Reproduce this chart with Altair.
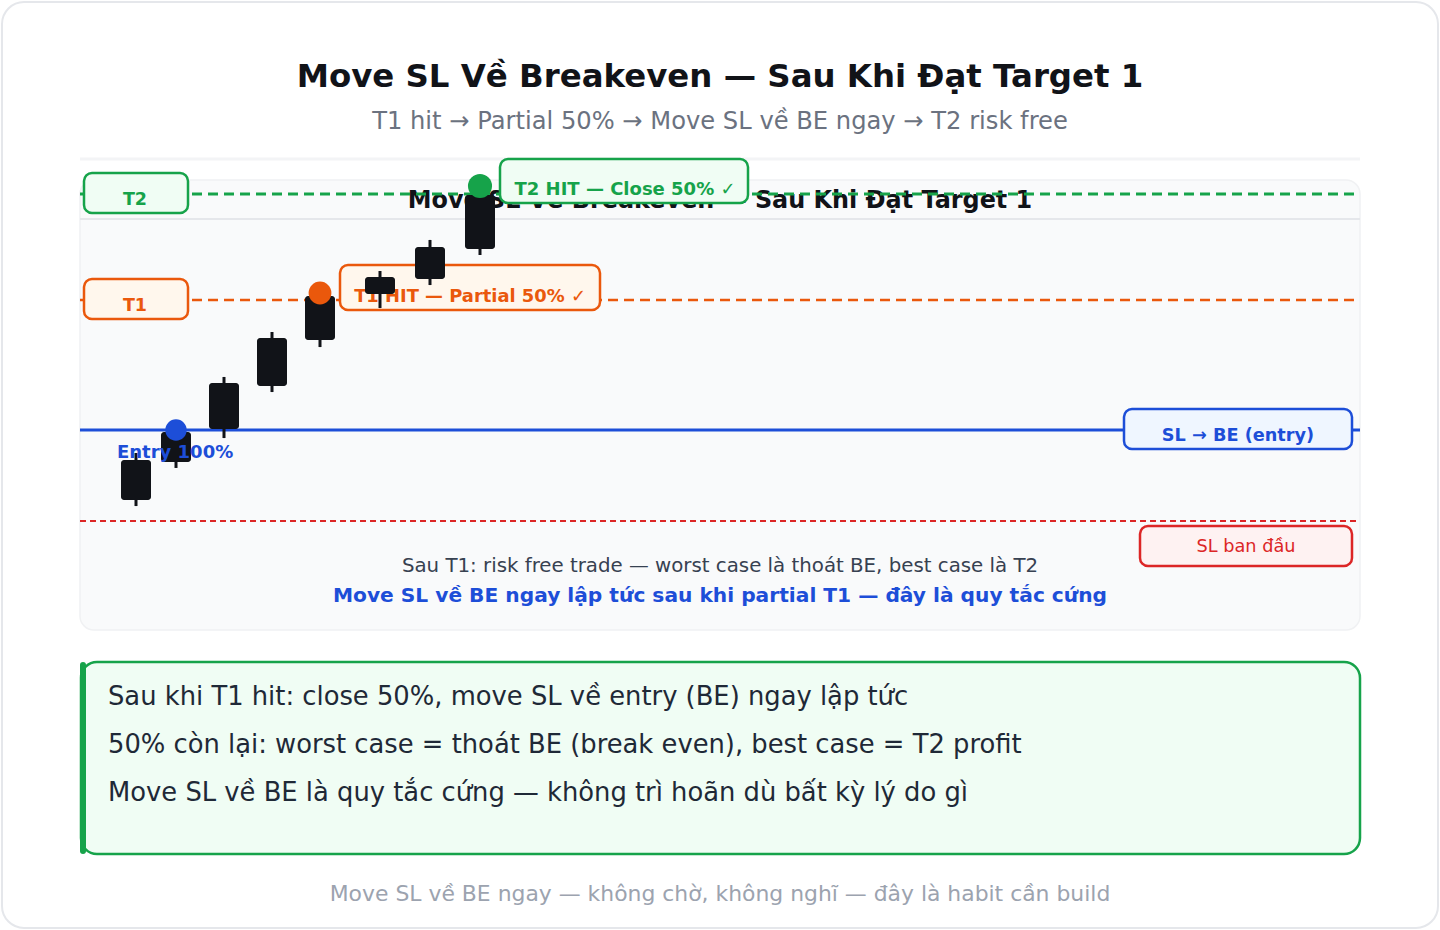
import altair as alt
import pandas as pd

# ---------------- data ----------------
CANDLE_T = [1, 2, 3.2, 4.4, 5.6, 7.1, 8.35, 9.6]
OPEN = [94.62, 97.54, 100.08, 103.38, 106.92, 110.46, 111.62, 113.92]
CLOSE = [97.69, 99.85, 103.62, 107.08, 110.30, 111.77, 114.08, 118.08]
HIGH = [98.23, 100.77, 104.08, 107.54, 110.54, 112.23, 114.62, 118.77]
LOW = [94.15, 97.08, 99.38, 102.92, 106.38, 109.38, 111.15, 113.46]

ENTRY = 100.0
T1 = 110.0
T2 = 118.15
SL0 = 93.0

MARKER_KIND = ["entry", "t1", "t2"]
MARKER_T = [2, 5.6, 9.6]
MARKER_P = [100.0, 110.54, 118.77]

TITLE = "Move SL Về Breakeven — Sau Khi Đạt Target 1"
SUBTITLE = "T1 hit → Partial 50% → Move SL về BE ngay → T2 risk free"
NOTE1 = "Sau T1: risk free trade — worst case là thoát BE, best case là T2"
NOTE2 = "Move SL về BE ngay lập tức sau khi partial T1 — đây là quy tắc cứng"
INFO = [
    "Sau khi T1 hit: close 50%, move SL về entry (BE) ngay lập tức",
    "50% còn lại: worst case = thoát BE (break even), best case = T2 profit",
    "Move SL về BE là quy tắc cứng — không trì hoãn dù bất kỳ lý do gì",
]
FOOTER = "Move SL về BE ngay — không chờ, không nghĩ — đây là habit cần build"

# ---------------- scales ----------------
W, H = 1440, 930
PX = 13.0  # px per price unit
XS = alt.Scale(domain=[-2.4, 33.6], nice=False, zero=False, padding=0)
YS = alt.Scale(domain=[ENTRY - (H - 430) / PX, ENTRY + 430 / PX], nice=False, zero=False, padding=0)

FONT = "DejaVu Sans"
GREEN, GREEN_BG = "#16a34a", "#f0fdf4"
ORANGE, ORANGE_BG = "#ea580c", "#fff7ed"
BLUE, BLUE_BG = "#1d4ed8", "#eff6ff"
RED, RED_BG = "#dc2626", "#fef2f2"
DARK = "#111318"

one = pd.DataFrame({"k": [0]})
candles = pd.DataFrame({"t": CANDLE_T, "open": OPEN, "close": CLOSE, "high": HIGH, "low": LOW})
markers = pd.DataFrame({"kind": MARKER_KIND, "t": MARKER_T, "p": MARKER_P})


def vbox(x1, x2, y1, y2, fill, stroke, sw=2.5, r=8):
    return alt.Chart(one).mark_rect(fill=fill, stroke=stroke, strokeWidth=sw, cornerRadius=r).encode(
        x=alt.value(x1), x2=alt.value(x2), y=alt.value(y1), y2=alt.value(y2))


def lbox(x1, x2, level, up_px, down_px, fill, stroke, sw=2.5, r=8):
    return alt.Chart(one).mark_rect(fill=fill, stroke=stroke, strokeWidth=sw, cornerRadius=r).encode(
        x=alt.value(x1), x2=alt.value(x2),
        y=alt.Y(datum=level + up_px / PX, scale=YS, axis=None),
        y2=alt.Y2(datum=level - down_px / PX))


def vtext(s, x, y, size, color, weight="normal", align="center"):
    return alt.Chart(one).mark_text(text=s, font=FONT, fontSize=size, fontWeight=weight, color=color,
                                    align=align, baseline="alphabetic").encode(
        x=alt.value(x), y=alt.value(y))


def ltext(s, x, level, dy, size, color, weight="bold", align="center"):
    return alt.Chart(one).mark_text(text=s, font=FONT, fontSize=size, fontWeight=weight, color=color,
                                    align=align, baseline="alphabetic", dy=dy).encode(
        x=alt.value(x), y=alt.Y(datum=level, scale=YS, axis=None))


def level_rule(level, color, width, dash=None):
    kw = dict(color=color, strokeWidth=width)
    if dash:
        kw["strokeDash"] = dash
    return alt.Chart(one).mark_rule(**kw).encode(
        x=alt.value(80), x2=alt.value(1360), y=alt.Y(datum=level, scale=YS, axis=None))


layers = []
# card
layers.append(vbox(2, 1438, 2, 928, "white", "#e5e7eb", sw=2, r=22))
layers.append(vtext(TITLE, 720, 87, 32.4, "#111318", "bold"))
layers.append(vtext(SUBTITLE, 720, 129, 24.2, "#6b7280"))
layers.append(alt.Chart(one).mark_rule(color="#f3f4f6", strokeWidth=3).encode(
    x=alt.value(80), x2=alt.value(1360), y=alt.value(159)))
# panel
layers.append(vbox(80, 1360, 180, 630, "#f9fafb", "#f0f1f3", sw=1.5, r=14))
layers.append(alt.Chart(one).mark_rule(color="#e5e7eb", strokeWidth=2).encode(
    x=alt.value(80), x2=alt.value(1360), y=alt.value(219)))
layers.append(vtext(TITLE, 720, 208, 23.9, "#111318", "bold"))

# level lines
layers.append(level_rule(SL0, RED, 2, [6, 4]))
layers.append(level_rule(ENTRY, BLUE, 3))
layers.append(level_rule(T1, ORANGE, 2.5, [10, 6]))
layers.append(level_rule(T2, GREEN, 3, [10, 6]))

# label boxes
layers.append(lbox(84, 188, T2, 21, 19, GREEN_BG, GREEN))
layers.append(ltext("T2", 135, T2, 11, 17.5, GREEN))
layers.append(lbox(84, 188, T1, 21, 19, ORANGE_BG, ORANGE))
layers.append(ltext("T1", 135, T1, 11, 17.5, ORANGE))
layers.append(lbox(1124, 1352, ENTRY, 21, 19, BLUE_BG, BLUE))
layers.append(ltext("SL → BE (entry)", 1238, ENTRY, 11, 17.7, BLUE))
layers.append(lbox(1140, 1352, SL0, -5, 45, RED_BG, RED))
layers.append(ltext("SL ban đầu", 1246, SL0, 31, 17.7, RED, weight="normal"))
layers.append(lbox(500, 748, T2, 35, 9, GREEN_BG, GREEN))
layers.append(ltext("T2 HIT — Close 50% ✓", 625, T2, 1, 18, GREEN))
layers.append(lbox(340, 600, T1, 35, 10, ORANGE_BG, ORANGE))
layers.append(ltext("T1 HIT — Partial 50% ✓", 470, T1, 2, 17.9, ORANGE))

# candles
layers.append(alt.Chart(candles).mark_rule(color=DARK, strokeWidth=3).encode(
    x=alt.X("t:Q", scale=XS, axis=None),
    y=alt.Y("low:Q", scale=YS, axis=None), y2="high:Q"))
layers.append(alt.Chart(candles).mark_bar(color=DARK, size=30, cornerRadius=3).encode(
    x=alt.X("t:Q", scale=XS, axis=None),
    y=alt.Y("open:Q", scale=YS, axis=None), y2="close:Q"))

# markers
layers.append(alt.Chart(markers).mark_circle(opacity=1).encode(
    x=alt.X("t:Q", scale=XS, axis=None),
    y=alt.Y("p:Q", scale=YS, axis=None),
    color=alt.Color("kind:N", scale=alt.Scale(domain=MARKER_KIND, range=[BLUE, ORANGE, GREEN]), legend=None),
    size=alt.Size("kind:N", scale=alt.Scale(domain=MARKER_KIND, range=[460, 580, 580]), legend=None)))

layers.append(ltext("Entry 100%", 117, ENTRY, 28, 18, BLUE, align="left"))

# panel notes
layers.append(vtext(NOTE1, 720, 572, 19.8, "#374151"))
layers.append(vtext(NOTE2, 720, 602, 20.2, BLUE, "bold"))

# info box
layers.append(vbox(81, 1360, 662, 854, GREEN_BG, GREEN, sw=2.5, r=16))
layers.append(alt.Chart(one).mark_rule(color=GREEN, strokeWidth=6, strokeCap="round").encode(
    x=alt.value(83), y=alt.value(665), y2=alt.value(851)))
for i, line in enumerate(INFO):
    layers.append(vtext(line, 108, 705 + 48 * i, 25.8, "#1f2937", align="left"))

layers.append(vtext(FOOTER, 720, 901, 21.9, "#9ca3af"))

chart = alt.layer(*layers).properties(
    width=W, height=H, padding=0, background="white",
    autosize=alt.AutoSizeParams(type="none"),
).configure_view(stroke="transparent")

chart.save("out.html", embed_options={"renderer": "svg", "actions": False})
